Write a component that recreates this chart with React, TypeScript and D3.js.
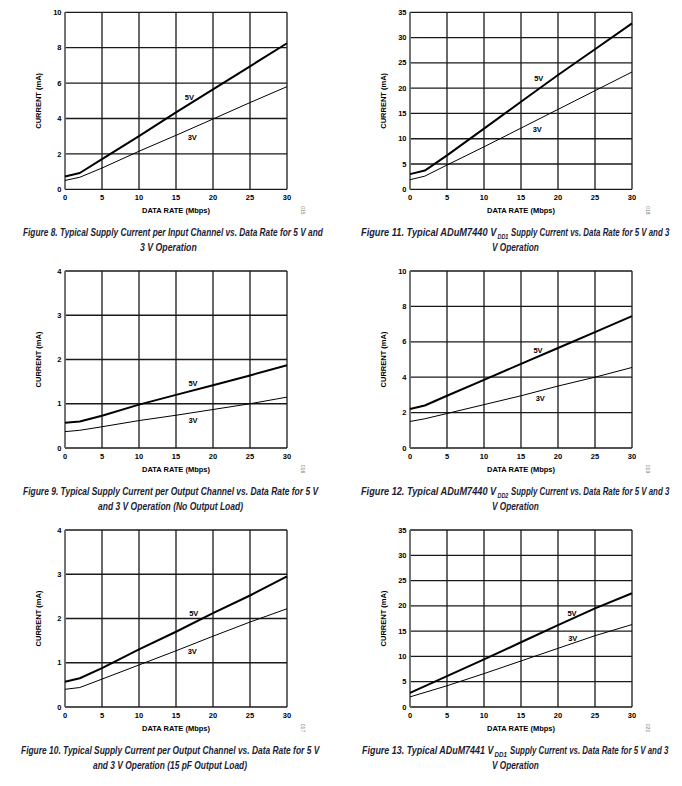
import React, { useLayoutEffect, useRef, useState } from "react";
import * as d3 from "d3";

// ---------- data ----------
const xRate = [0, 2, 5, 10, 15, 20, 25, 30];
const xRate13 = [0, 5, 10, 15, 20, 25, 30];
const xTicks = [0, 5, 10, 15, 20, 25, 30];

const fig8_5V = [0.72, 0.92, 1.7, 3.0, 4.35, 5.65, 6.95, 8.25];
const fig8_3V = [0.5, 0.68, 1.2, 2.15, 3.05, 3.97, 4.9, 5.8];

const fig11_5V = [3.0, 3.7, 6.7, 12.0, 17.3, 22.6, 27.7, 32.8];
const fig11_3V = [1.9, 2.6, 4.8, 8.4, 12.1, 15.8, 19.5, 23.2];

const fig9_5V = [0.57, 0.6, 0.73, 0.98, 1.2, 1.42, 1.64, 1.87];
const fig9_3V = [0.37, 0.4, 0.48, 0.62, 0.74, 0.87, 1.0, 1.15];

const fig12_5V = [2.2, 2.4, 2.95, 3.85, 4.75, 5.65, 6.55, 7.45];
const fig12_3V = [1.5, 1.65, 1.95, 2.45, 2.95, 3.5, 4.0, 4.55];

const fig10_5V = [0.57, 0.65, 0.88, 1.3, 1.7, 2.12, 2.52, 2.95];
const fig10_3V = [0.4, 0.44, 0.63, 0.95, 1.27, 1.6, 1.92, 2.22];

const fig13_5V = [2.8, 6.1, 9.4, 12.8, 16.2, 19.5, 22.5];
const fig13_3V = [2.0, 4.2, 6.6, 9.1, 11.6, 14.1, 16.3];

const ticks10 = [0, 2, 4, 6, 8, 10];
const ticks35 = [0, 5, 10, 15, 20, 25, 30, 35];
const ticks4 = [0, 1, 2, 3, 4];

// ---------- layout ----------
const PW = 222;
const PH = 177;
const COLX = [65, 410];
const ROWY = [12.3, 271, 530];
const CAP = "#1c1c34";

// caption segment: text, left x, width, subscript?
type Seg = { t: string; x: number; w: number; sub?: boolean };
type Panel = {
  col: number;
  row: number;
  xs: number[];
  v5: number[];
  v3: number[];
  yMax: number;
  yTicks: number[];
  lab5: [number, number];
  lab3: [number, number];
  cap1: Seg[];
  cap2: Seg;
  code: string;
};

const panels: Panel[] = [
  {
    col: 0, row: 0, xs: xRate, v5: fig8_5V, v3: fig8_3V, yMax: 10, yTicks: ticks10,
    lab5: [16.8, 5.2], lab3: [17.2, 2.94],
    cap1: [{ t: "Figure 8. Typical Supply Current per Input Channel vs. Data Rate for 5 V and", x: 23, w: 300 }],
    cap2: { t: "3 V Operation", x: 140, w: 57 }, code: "015",
  },
  {
    col: 1, row: 0, xs: xRate, v5: fig11_5V, v3: fig11_3V, yMax: 35, yTicks: ticks35,
    lab5: [17.4, 21.9], lab3: [17.2, 11.9],
    cap1: [
      { t: "Figure 11. Typical ADuM7440 V", x: 361, w: 136 },
      { t: "DD1", x: 497.5, w: 11, sub: true },
      { t: "Supply Current vs. Data Rate for 5 V and 3", x: 511, w: 159 },
    ],
    cap2: { t: "V Operation", x: 492, w: 47 }, code: "018",
  },
  {
    col: 0, row: 1, xs: xRate, v5: fig9_5V, v3: fig9_3V, yMax: 4, yTicks: ticks4,
    lab5: [17.3, 1.46], lab3: [17.3, 0.63],
    cap1: [{ t: "Figure 9. Typical Supply Current per Output Channel vs. Data Rate for 5 V", x: 23, w: 296 }],
    cap2: { t: "and 3 V Operation (No Output Load)", x: 98, w: 145 }, code: "016",
  },
  {
    col: 1, row: 1, xs: xRate, v5: fig12_5V, v3: fig12_3V, yMax: 10, yTicks: ticks10,
    lab5: [17.3, 5.52], lab3: [17.6, 2.81],
    cap1: [
      { t: "Figure 12. Typical ADuM7440 V", x: 361, w: 136 },
      { t: "DD2", x: 497.5, w: 11, sub: true },
      { t: "Supply Current vs. Data Rate for 5 V and 3", x: 511, w: 159 },
    ],
    cap2: { t: "V Operation", x: 492, w: 47 }, code: "019",
  },
  {
    col: 0, row: 2, xs: xRate, v5: fig10_5V, v3: fig10_3V, yMax: 4, yTicks: ticks4,
    lab5: [17.4, 2.12], lab3: [17.2, 1.26],
    cap1: [{ t: "Figure 10. Typical Supply Current per Output Channel vs. Data Rate for 5 V", x: 21, w: 299 }],
    cap2: { t: "and 3 V Operation (15 pF Output Load)", x: 93, w: 154 }, code: "017",
  },
  {
    col: 1, row: 2, xs: xRate13, v5: fig13_5V, v3: fig13_3V, yMax: 35, yTicks: ticks35,
    lab5: [21.9, 18.5], lab3: [22.0, 13.6],
    cap1: [
      { t: "Figure 13. Typical ADuM7441 V", x: 362, w: 132 },
      { t: "DD1", x: 494.5, w: 12.5, sub: true },
      { t: "Supply Current vs. Data Rate for 5 V and 3", x: 510, w: 159 },
    ],
    cap2: { t: "V Operation", x: 492, w: 47 }, code: "020",
  },
];

const FONT = "'Liberation Sans', Arial, sans-serif";
const NARROW = "'Liberation Sans Narrow', 'Liberation Sans', Arial, sans-serif";

// caption text horizontally scaled to the measured width of the reference
function CapText({ s, y }: { s: Seg; y: number }) {
  const ref = useRef<SVGTextElement>(null);
  const [k, setK] = useState(0.7);
  useLayoutEffect(() => {
    const el = ref.current;
    if (!el) return;
    const w = el.getBBox().width;
    if (w > 0) setK(s.w / w);
  }, [s.t, s.w]);
  const ty = s.sub ? y + 2.5 : y;
  return (
    <g transform={`translate(${s.x},${ty}) scale(${k},1)`}>
      <text
        ref={ref}
        x={0}
        y={0}
        fontFamily={NARROW}
        fontWeight="bold"
        fontStyle="italic"
        fontSize={s.sub ? 8 : 11}
        fill={CAP}
      >
        {s.t}
      </text>
    </g>
  );
}

function ChartPanel({ p }: { p: Panel }) {
  const x0 = COLX[p.col];
  const y0 = ROWY[p.row];
  const x = d3.scaleLinear().domain([0, 30]).range([x0, x0 + PW]);
  const y = d3.scaleLinear().domain([0, p.yMax]).range([y0 + PH, y0]);
  const line = d3
    .line<number>()
    .x((_, i) => x(p.xs[i]))
    .y((d) => y(d))
    .curve(d3.curveLinear);
  const cx = x0 + PW / 2;
  return (
    <g>
      {/* grid */}
      {p.yTicks.map((t) => (
        <line key={"h" + t} x1={x0} x2={x0 + PW} y1={y(t)} y2={y(t)} stroke="#1a1a1a" strokeWidth={1.3} />
      ))}
      {xTicks.map((t) => (
        <line key={"v" + t} x1={x(t)} x2={x(t)} y1={y0} y2={y0 + PH} stroke="#1a1a1a" strokeWidth={1.3} />
      ))}
      <line x1={x0} x2={x0} y1={y0} y2={y0 + PH} stroke="#777" strokeWidth={1.6} />
      {/* curves */}
      <path d={line(p.v3) || ""} fill="none" stroke="#000" strokeWidth={1} strokeLinejoin="round" />
      <path d={line(p.v5) || ""} fill="none" stroke="#000" strokeWidth={2} strokeLinejoin="round" />
      {/* labels */}
      <text x={x(p.lab5[0])} y={y(p.lab5[1])} dy="0.35em" textAnchor="middle" fontFamily={FONT} fontWeight="bold" fontSize={7.5}>5V</text>
      <text x={x(p.lab3[0])} y={y(p.lab3[1])} dy="0.35em" textAnchor="middle" fontFamily={FONT} fontWeight="bold" fontSize={7.5}>3V</text>
      {/* tick labels */}
      {p.yTicks.map((t) => (
        <text key={"yl" + t} x={x0 - 3.5} y={y(t)} dy="0.35em" textAnchor="end" fontFamily={FONT} fontWeight="bold" fontSize={7.5}>{t}</text>
      ))}
      {xTicks.map((t) => (
        <text key={"xl" + t} x={x(t)} y={y0 + PH + 10.5} textAnchor="middle" fontFamily={FONT} fontWeight="bold" fontSize={7.5}>{t}</text>
      ))}
      {/* axis titles */}
      <text x={cx} y={y0 + PH + 24} textAnchor="middle" fontFamily={FONT} fontWeight="bold" fontSize={7.5}>DATA RATE (Mbps)</text>
      <text transform={`translate(${x0 - 24.5},${y0 + PH / 2}) rotate(-90)`} textAnchor="middle" fontFamily={FONT} fontWeight="bold" fontSize={7.5}>CURRENT (mA)</text>
      {/* code */}
      <text transform={`translate(${x0 + PW + 14},${y0 + PH + 21}) rotate(90)`} textAnchor="middle" fontFamily={FONT} fontSize={5} fill="#777">{p.code}</text>
      {/* caption */}
      {p.cap1.map((s, i) => (
        <CapText key={i} s={s} y={y0 + 224} />
      ))}
      <CapText s={p.cap2} y={y0 + 239} />
    </g>
  );
}

export default function App() {
  return (
    <svg width={682} height={786} style={{ position: "absolute", left: 0, top: 0, background: "#fff" }}>
      <rect width={682} height={786} fill="#fff" />
      {panels.map((p, i) => (
        <ChartPanel key={i} p={p} />
      ))}
    </svg>
  );
}
